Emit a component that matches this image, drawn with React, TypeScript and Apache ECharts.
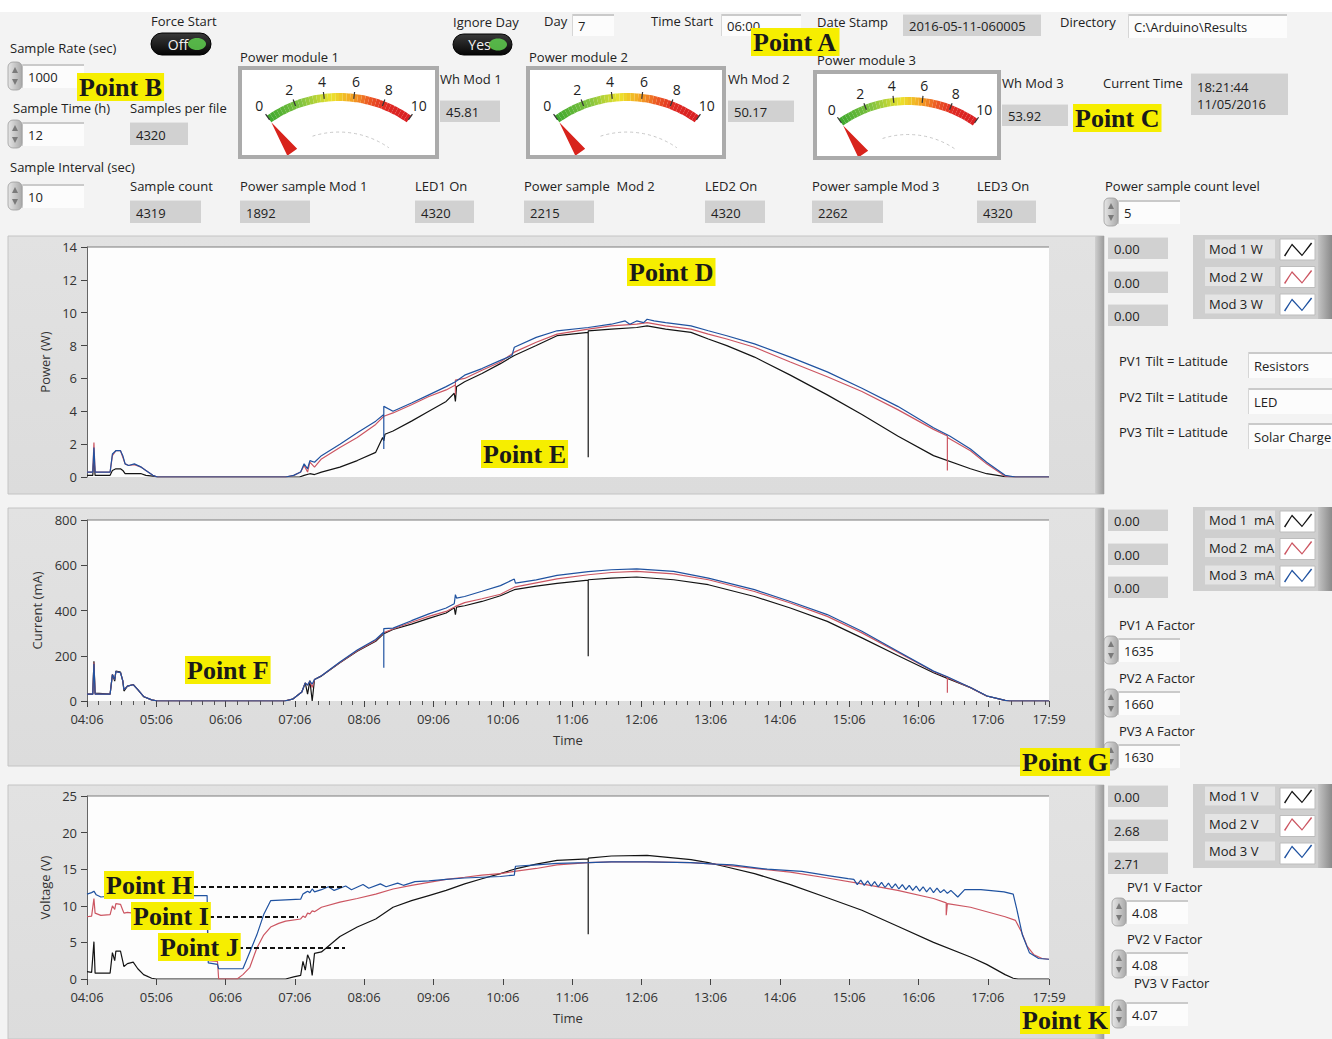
import React, { useEffect, useRef } from "react";
import * as echarts from "echarts";

type Pt = [string, number];

// ---------------- DATA ----------------
const TIME_START = "04:06";
const TIME_END = "17:59";

// Power (W)
const powerMod1: Pt[] = [["04:06",0.1],["04:11",0.1],["04:12",1.2],["04:13",0.1],["04:26",0.1],["04:28",0.4],["04:31",0.5],["04:35",0.5],["04:37",0.4],["04:39",0.2],["04:47",0.2],["04:53",0.2],["04:57",0.1],["05:03",0.05],["05:07",0],["07:10",0],["07:14",0.1],["07:19",0.2],["07:23",0.15],["07:29",0.3],["07:45",0.6],["08:00",1.0],["08:16",1.5],["08:22",2.4],["08:23",2.2],["08:24",2.6],["08:31",2.8],["08:47",3.4],["09:02",4.0],["09:17",4.6],["09:24",5.1],["09:25",4.6],["09:26",5.5],["09:33",5.8],["09:48",6.3],["10:04",6.9],["10:16",7.4],["10:35",8.0],["10:53",8.6],["11:20",8.8],["11:20",1.2],["11:20",8.9],["11:40",9.0],["12:02",9.1],["12:11",9.2],["12:27",9.0],["12:49",8.8],["13:04",8.4],["13:20",8.0],["13:44",7.3],["14:15",6.2],["14:47",5.0],["15:17",3.8],["15:48",2.5],["16:19",1.3],["16:51",0.5],["17:05",0.2],["17:21",0.02],["17:30",0],["17:59",0]];
const powerMod2: Pt[] = [["04:06",0.3],["04:11",0.3],["04:12",2.1],["04:13",0.3],["04:26",0.3],["04:28",1.3],["04:31",1.6],["04:35",1.6],["04:37",1.2],["04:39",0.8],["04:42",0.7],["04:47",0.75],["04:53",0.6],["04:57",0.4],["05:03",0.1],["05:07",0],["06:58",0],["07:05",0.1],["07:11",0.3],["07:14",0.7],["07:17",0.3],["07:19",0.9],["07:23",0.6],["07:29",1.1],["07:45",1.8],["08:00",2.4],["08:16",3.2],["08:23",3.7],["08:31",3.9],["08:47",4.4],["09:02",4.9],["09:17",5.3],["09:25",5.6],["09:25",5.0],["09:25",5.9],["09:33",6.0],["09:48",6.5],["10:04",7.0],["10:16",7.6],["10:35",8.2],["10:53",8.7],["11:20",9.0],["11:40",9.2],["12:02",9.3],["12:11",9.4],["12:27",9.2],["12:49",9.0],["13:04",8.7],["13:20",8.4],["13:44",7.9],["14:15",7.0],["14:47",6.1],["15:17",5.2],["15:48",4.1],["16:19",2.9],["16:31",2.5],["16:31",0.4],["16:31",2.4],["16:51",1.6],["17:05",0.8],["17:21",0.05],["17:28",0],["17:59",0]];
const powerMod3: Pt[] = [["04:06",0.3],["04:11",0.3],["04:12",1.8],["04:13",0.3],["04:26",0.3],["04:28",1.4],["04:31",1.6],["04:35",1.6],["04:37",1.3],["04:39",0.8],["04:42",0.7],["04:47",0.8],["04:53",0.6],["04:57",0.4],["05:03",0.1],["05:07",0],["06:58",0],["07:05",0.1],["07:11",0.3],["07:14",0.8],["07:17",0.5],["07:19",1.0],["07:23",0.9],["07:29",1.3],["07:45",2.0],["08:00",2.7],["08:16",3.4],["08:23",3.8],["08:23",1.7],["08:23",4.3],["08:31",4.0],["08:47",4.5],["09:02",5.0],["09:17",5.5],["09:25",5.8],["09:33",6.2],["09:48",6.6],["10:04",7.1],["10:14",7.4],["10:16",7.9],["10:35",8.5],["10:53",8.9],["11:20",9.1],["11:40",9.3],["11:52",9.5],["11:56",9.3],["12:02",9.5],["12:08",9.4],["12:11",9.6],["12:17",9.5],["12:27",9.4],["12:49",9.2],["13:04",8.9],["13:20",8.6],["13:44",8.1],["14:15",7.3],["14:47",6.4],["15:17",5.4],["15:48",4.3],["16:19",3.0],["16:33",2.5],["16:51",1.7],["17:05",0.9],["17:21",0.1],["17:30",0],["17:59",0]];

// Current (mA)
const currentMod1: Pt[] = [["04:06",30],["04:11",30],["04:12",176],["04:13",35],["04:26",30],["04:28",117],["04:30",88],["04:31",132],["04:35",128],["04:37",88],["04:38",44],["04:41",66],["04:46",73],["04:50",50],["04:55",19],["05:02",5],["05:07",0],["06:57",0],["07:04",8],["07:12",40],["07:15",80],["07:17",30],["07:19",90],["07:21",0],["07:23",95],["07:29",110],["07:45",169],["08:00",220],["08:16",264],["08:23",298],["08:31",316],["08:47",340],["09:02",365],["09:17",389],["09:24",412],["09:25",382],["09:26",415],["09:33",421],["09:48",440],["10:04",465],["10:16",492],["10:35",508],["10:53",520],["11:20",534],["11:20",198],["11:20",536],["11:40",543],["12:02",548],["12:34",536],["13:04",514],["13:44",462],["14:15",411],["14:47",352],["15:17",279],["15:48",201],["16:19",125],["16:31",100],["16:51",59],["17:05",22],["17:21",3],["17:25",0],["17:59",0]];
const currentMod2: Pt[] = [["04:06",30],["04:11",30],["04:12",170],["04:13",30],["04:26",30],["04:28",117],["04:30",95],["04:31",130],["04:35",125],["04:37",90],["04:38",50],["04:41",66],["04:46",72],["04:50",50],["04:55",20],["05:02",5],["05:07",0],["06:57",0],["07:04",8],["07:12",40],["07:15",80],["07:17",70],["07:19",88],["07:21",60],["07:23",95],["07:29",112],["07:45",170],["08:00",222],["08:16",268],["08:23",302],["08:31",318],["08:47",348],["09:02",374],["09:17",396],["09:25",418],["09:33",435],["09:48",452],["10:04",472],["10:16",503],["10:35",522],["10:53",540],["11:20",558],["11:40",568],["12:02",573],["12:34",562],["13:04",536],["13:44",484],["14:15",433],["14:47",374],["15:17",301],["15:48",216],["16:19",130],["16:31",105],["16:31",37],["16:31",104],["16:51",59],["17:05",22],["17:21",3],["17:25",0],["17:59",0]];
const currentMod3: Pt[] = [["04:06",30],["04:11",30],["04:12",165],["04:13",30],["04:26",30],["04:28",117],["04:30",95],["04:31",130],["04:35",125],["04:37",90],["04:38",50],["04:41",66],["04:46",72],["04:50",50],["04:55",20],["05:02",5],["05:07",0],["06:57",0],["07:04",8],["07:12",40],["07:15",80],["07:17",70],["07:19",88],["07:21",75],["07:23",95],["07:29",112],["07:45",172],["08:00",225],["08:16",272],["08:23",305],["08:23",147],["08:23",320],["08:31",322],["08:47",355],["09:02",385],["09:17",411],["09:24",430],["09:25",470],["09:26",455],["09:33",462],["09:48",485],["10:04",510],["10:16",539],["10:17",521],["10:35",535],["10:53",555],["11:20",572],["11:40",580],["12:02",584],["12:34",573],["13:04",543],["13:44",492],["14:15",440],["14:47",382],["15:17",308],["15:48",220],["16:19",132],["16:31",107],["16:51",60],["17:05",23],["17:21",3],["17:25",0],["17:59",0]];

// Voltage (V)
const voltMod1: Pt[] = [["04:06",1.0],["04:10",0.9],["04:12",5.1],["04:13",0.8],["04:26",0.8],["04:28",3.6],["04:30",2.5],["04:31",3.8],["04:35",3.8],["04:37",2.4],["04:38",1.7],["04:41",2.1],["04:46",2.3],["04:50",1.4],["04:55",0.6],["05:02",0.1],["05:06",0],["06:58",0],["07:05",0.3],["07:11",0.5],["07:13",2.4],["07:15",1.2],["07:17",3.3],["07:19",2.6],["07:21",0.5],["07:23",3.5],["07:29",3.7],["07:45",5.8],["08:00",7.1],["08:16",8.2],["08:31",9.8],["08:47",10.7],["09:02",11.4],["09:17",12.1],["09:33",13.0],["09:48",13.7],["10:04",14.4],["10:16",15.0],["10:35",15.7],["10:53",16.2],["11:20",16.4],["11:20",6.1],["11:20",16.5],["11:40",16.8],["12:11",16.9],["12:49",16.3],["13:04",15.9],["13:20",15.3],["13:44",14.4],["14:15",12.9],["14:47",11.1],["15:17",9.4],["15:48",7.2],["16:19",5.0],["16:51",3.0],["17:05",2.0],["17:21",0.6],["17:28",0.1],["17:32",0],["17:59",0]];
const voltMod2: Pt[] = [["04:06",8.5],["04:10",8.6],["04:12",11.0],["04:13",9.0],["04:18",8.7],["04:26",8.8],["04:28",10.0],["04:30",9.5],["04:31",10.3],["04:35",10.2],["04:37",9.4],["04:38",9.0],["04:41",9.1],["04:46",9.0],["04:50",8.9],["04:55",8.8],["05:50",8.8],["05:51",2.5],["05:59",2.4],["06:00",0],["06:16",0],["06:21",0.6],["06:27",1.6],["06:33",4.2],["06:39",6.0],["06:45",7.1],["06:52",7.6],["06:58",7.9],["07:11",8.2],["07:13",8.6],["07:15",8.4],["07:17",9.0],["07:19",8.9],["07:21",9.3],["07:23",9.2],["07:29",9.8],["07:45",10.5],["08:00",11.0],["08:16",11.6],["08:31",12.3],["08:47",12.8],["09:02",13.2],["09:17",13.6],["09:33",13.9],["09:48",14.2],["10:04",14.4],["10:16",14.7],["10:35",15.1],["10:53",15.6],["11:20",15.9],["11:40",16.0],["12:11",16.0],["12:49",15.9],["13:10",15.7],["13:44",15.1],["14:15",14.6],["14:47",13.8],["15:17",13.0],["15:48",12.1],["16:19",11.0],["16:30",10.4],["16:30",8.7],["16:31",10.3],["16:51",9.8],["17:21",8.5],["17:30",8.0],["17:35",6.5],["17:40",4.5],["17:46",3.3],["17:53",2.8],["17:59",2.7]];
const voltMod3: Pt[] = [["04:06",11.6],["04:10",11.8],["04:12",12.0],["04:14",11.5],["04:18",11.2],["04:30",11.4],["05:50",11.4],["05:51",2.2],["05:59",2.0],["06:00",1.4],["06:21",1.4],["06:27",3.7],["06:33",6.0],["06:39",8.8],["06:45",10.7],["07:11",10.9],["07:13",11.6],["07:15",11.8],["07:17",12.0],["07:19",11.8],["07:21",12.3],["07:23",11.9],["07:29",12.2],["07:35",12.6],["07:40",12.1],["07:50",12.7],["07:55",12.2],["08:05",12.9],["08:10",12.4],["08:20",13.0],["08:25",12.6],["08:35",13.1],["08:40",12.8],["08:50",13.3],["09:02",13.4],["09:17",13.6],["09:33",13.8],["09:48",13.9],["10:04",14.0],["10:16",14.2],["10:17",15.4],["10:35",15.6],["10:53",15.8],["11:20",15.9],["11:40",16.0],["12:11",16.0],["12:49",15.9],["13:10",15.7],["13:25",15.6],["13:55",15.0],["14:25",14.7],["14:49",14.1],["15:05",13.7],["15:10",13.6],["15:13",12.9],["15:16",13.5],["15:19",12.8],["15:22",13.4],["15:25",12.7],["15:28",13.3],["15:31",12.6],["15:34",13.2],["15:37",12.5],["15:40",13.1],["15:43",12.4],["15:46",13.0],["15:49",12.3],["15:52",12.9],["15:55",12.2],["15:58",12.8],["16:01",12.1],["16:04",12.7],["16:07",12.0],["16:10",12.6],["16:13",11.9],["16:16",12.5],["16:19",11.8],["16:22",12.4],["16:25",11.8],["16:28",12.2],["16:31",11.7],["16:34",12.1],["16:40",11.2],["16:46",12.2],["17:00",12.2],["17:20",11.9],["17:28",11.6],["17:31",9.6],["17:36",6.0],["17:42",3.6],["17:50",2.8],["17:59",2.7]];

const powerNames = ["Mod 1 W", "Mod 2 W", "Mod 3 W"];
const currentNames = ["Mod 1  mA", "Mod 2  mA", "Mod 3  mA"];
const voltNames = ["Mod 1 V", "Mod 2 V", "Mod 3 V"];
const powerReadouts = ["0.00", "0.00", "0.00"];
const currentReadouts = ["0.00", "0.00", "0.00"];
const voltReadouts = ["0.00", "2.68", "2.71"];
const gaugeNeedles = [0, 0, 0];
const gaugeTickLabels = ["0", "2", "4", "6", "8", "10"];
const whValues = ["45.81", "50.17", "53.92"];
const sampleCounts = ["4319", "1892", "4320", "2215", "4320", "2262", "4320"];
const aFactors = ["1635", "1660", "1630"];
const vFactors = ["4.08", "4.08", "4.07"];
const tiltLoads = ["Resistors", "LED", "Solar Charge"];

// ---------------- HELPERS ----------------
const FONT = "'Open Sans', 'Noto Sans', sans-serif";
const SERIF = "'Liberation Serif', 'Times New Roman', serif";
const COLORS = ["#141414", "#cc5662", "#1f52a0"];

const toMin = (s: string) => {
  const [h, m] = s.split(":").map(Number);
  return h * 60 + m;
};
const T0 = toMin(TIME_START);
const T1 = toMin(TIME_END);
const pad = (n: number) => (n < 10 ? "0" + n : "" + n);
const fmtTime = (v: number) => {
  const t = Math.round(v + T0);
  return pad(Math.floor(t / 60)) + ":" + pad(t % 60);
};
const toXY = (arr: Pt[]) => arr.map(([t, v]) => [toMin(t) - T0, v]);

const GAUGE_KEYS: [number, string][] = [
  [0, "#3da82e"], [0.25, "#84c440"], [0.45, "#ece32c"], [0.58, "#f4a823"],
  [0.7, "#ec5a24"], [0.82, "#e02a23"], [1, "#d81f22"],
];
const hex = (c: string) => [1, 3, 5].map((i) => parseInt(c.slice(i, i + 2), 16));
const colorAt = (t: number) => {
  for (let i = 1; i < GAUGE_KEYS.length; i++) {
    const [t1, c1] = GAUGE_KEYS[i];
    const [t0, c0] = GAUGE_KEYS[i - 1];
    if (t <= t1) {
      const f = (t - t0) / (t1 - t0);
      const a = hex(c0), b = hex(c1);
      return "rgb(" + a.map((x, k) => Math.round(x + (b[k] - x) * f)).join(",") + ")";
    }
  }
  return GAUGE_KEYS[GAUGE_KEYS.length - 1][1];
};
const GAUGE_STOPS = Array.from({ length: 40 }, (_, i) => [(i + 1) / 40, colorAt((i + 0.5) / 40)]);

const NEEDLE = "path://M6,0 L12,31 L0,31 Z M0,100 L0.1,100 L0,99.9 Z M12,0 L11.9,0 L12,0.1 Z M0,0 L0.1,0 L0,0.1 Z";
const ZIG = "path://M0,0 L0.1,0 L0,0.1 Z M35,21 L34.9,21 L35,20.9 Z M4,17 L12,5 L22,16 L31,4 L32.2,5 L22,17.8 L12,7 L5.2,18 Z";

const GAUGE_START = 125;
const GAUGE_END = 55;

function buildOption() {
  const g: any[] = [];
  const lg = (c0: string, c1: string, hor = false) =>
    new echarts.graphic.LinearGradient(0, 0, hor ? 1 : 0, hor ? 0 : 1, [
      { offset: 0, color: c0 },
      { offset: 1, color: c1 },
    ]);
  const rect = (x: number, y: number, w: number, h: number, style: any, z = -3, r = 0) =>
    g.push({ type: "rect", silent: true, z, shape: { x, y, width: w, height: h, r }, style });
  const line = (x1: number, y1: number, x2: number, y2: number, style: any, z = -2) =>
    g.push({ type: "line", silent: true, z, shape: { x1, y1, x2, y2 }, style });
  const txt = (x: number, y: number, text: string, o: any = {}) =>
    g.push({
      type: "text", silent: true, z: o.z ?? 5, x, y,
      style: {
        text, fill: o.color ?? "#222",
        font: `${o.weight ?? "normal"} ${o.size ?? 13}px ${o.family ?? FONT}`,
        textAlign: o.align ?? "left", textVerticalAlign: "middle",
        align: o.align ?? "left", verticalAlign: "middle",
        lineHeight: o.lineHeight,
      },
    });

  // page background
  rect(0, 0, 1332, 1039, { fill: "#f3f3f3" }, -10);
  rect(0, 0, 1332, 12, { fill: "#ffffff" }, -9);

  // chart panels
  const panels = [
    [236, 258, 247, 230],
    [508, 258, 520, 181],
    [785, 254, 796, 183],
  ];
  panels.forEach(([py, ph, gy, gh]) => {
    rect(8, py, 1096, ph, { fill: lg("#e2e2e2", "#dcdcdc"), stroke: "#c4c4c4", lineWidth: 1 }, -8);
    rect(1095, py, 9, ph, { fill: lg("#cfcfcf", "#9c9c9c", true) }, -7);
    rect(87, gy, 962, gh, { fill: "#fdfdfd" }, -6);
    line(87, gy, 1049, gy, { stroke: "#7d7d7d", lineWidth: 1 }, -5);
  });

  // labels
  const LABELS: [number, number, string][] = [
    [151, 21, "Force Start"], [453, 22, "Ignore Day"], [544, 21, "Day"], [651, 21, "Time Start"],
    [817, 22, "Date Stamp"], [1060, 22, "Directory"],
    [10, 48, "Sample Rate (sec)"], [240, 57, "Power module 1"], [529, 57, "Power module 2"], [817, 60, "Power module 3"],
    [440, 79, "Wh Mod 1"], [728, 79, "Wh Mod 2"], [1002, 83, "Wh Mod 3"], [1103, 83, "Current Time"],
    [13, 108, "Sample Time (h)"], [130, 108, "Samples per file"], [10, 167, "Sample Interval (sec)"],
    [130, 186, "Sample count"], [240, 186, "Power sample Mod 1"], [415, 186, "LED1 On"],
    [524, 186, "Power sample  Mod 2"], [705, 186, "LED2 On"], [812, 186, "Power sample Mod 3"],
    [977, 186, "LED3 On"], [1105, 186, "Power sample count level"],
    [1119, 361, "PV1 Tilt = Latitude"], [1119, 397, "PV2 Tilt = Latitude"], [1119, 432, "PV3 Tilt = Latitude"],
    [1119, 625, "PV1 A Factor"], [1119, 678, "PV2 A Factor"], [1119, 731, "PV3 A Factor"],
    [1127, 887, "PV1 V Factor"], [1127, 939, "PV2 V Factor"], [1134, 983, "PV3 V Factor"],
  ];
  LABELS.forEach(([x, y, t]) => txt(x, y, t));

  // indicators (gray)
  const indicator = (x: number, y: number, w: number, h: number, t: string, lh?: number) => {
    rect(x, y, w, h, { fill: "#d1d1d1" }, -3);
    line(x, y + 0.5, x + w, y + 0.5, { stroke: "#e4e4e4", lineWidth: 1 }, -2);
    txt(x + 6, y + h / 2 + 1, t, { lineHeight: lh });
  };
  indicator(903, 14, 138, 22, "2016-05-11-060005");
  indicator(440, 100, 60, 22, whValues[0]);
  indicator(728, 100, 66, 22, whValues[1]);
  indicator(1002, 104, 66, 22, whValues[2]);
  indicator(1191, 73, 97, 42, "18:21:44\n11/05/2016", 17);
  indicator(130, 122, 58, 23, "4320");
  const countBoxes = [[130, 71], [240, 70], [415, 59], [524, 70], [705, 60], [812, 71], [977, 59]];
  countBoxes.forEach(([x, w], i) => indicator(x, 200, w, 23, sampleCounts[i]));
  [237, 271, 304].forEach((y, i) => indicator(1108, y, 60, 22, powerReadouts[i]));
  [509, 543, 576].forEach((y, i) => indicator(1108, y, 60, 22, currentReadouts[i]));
  [785, 819, 852].forEach((y, i) => indicator(1108, y, 60, 22, voltReadouts[i]));

  // controls (white)
  const spinner = (x: number, y: number) => {
    rect(x, y, 14, 28, { fill: lg("#e6e6e6", "#a9a9a9", true), stroke: "#9c9c9c", lineWidth: 0.8 }, -2, 5);
    g.push({ type: "polygon", silent: true, z: -1, shape: { points: [[x + 4, y + 11], [x + 7, y + 5], [x + 10, y + 11]] }, style: { fill: "#7a7a7a" } });
    g.push({ type: "polygon", silent: true, z: -1, shape: { points: [[x + 4, y + 17], [x + 7, y + 23], [x + 10, y + 17]] }, style: { fill: "#7a7a7a" } });
  };
  const control = (x: number, y: number, w: number, h: number, t: string, spin: boolean) => {
    rect(x, y, w, h, { fill: "#fcfcfc" }, -3);
    line(x, y + 1, x + w, y + 1, { stroke: "#cacaca", lineWidth: 2 }, -2);
    line(x + 0.5, y, x + 0.5, y + h, { stroke: "#d6d6d6", lineWidth: 1 }, -2);
    if (spin) spinner(x - 14, y - 2);
    txt(x + 6, y + h / 2 + 1, t);
  };
  control(572, 14, 42, 22, "7", false);
  control(721, 14, 80, 22, "06:00", false);
  control(1128, 14, 159, 24, "C:\\Arduino\\Results", false);
  control(22, 64, 62, 24, "1000", true);
  control(22, 122, 62, 24, "12", true);
  control(22, 184, 62, 24, "10", true);
  control(1118, 200, 62, 24, "5", true);
  [352, 388, 423].forEach((y, i) => control(1248, y, 90, 26, tiltLoads[i], false));
  [638, 691, 744].forEach((y, i) => control(1118, y, 62, 24, aFactors[i], true));
  [900, 952, 1002].forEach((y, i) => control(1126, y, 62, 24, vFactors[i], true));

  // toggles
  const toggle = (x: number, y: number, w: number, h: number, t: string) => {
    rect(x, y, w, h, { fill: lg("#3a3a3a", "#050505"), stroke: "#000", lineWidth: 1 }, -2, h / 2);
    g.push({ type: "ellipse", silent: true, z: -1, shape: { cx: x + w - 14, cy: y + h / 2, rx: 9, ry: 6 }, style: { fill: "#5fcf4f", opacity: 0.85 } });
    txt(x + w / 2 - 3, y + h / 2, t, { color: "#f2f2f2", align: "center", size: 14 });
  };
  toggle(151, 33, 60, 22, "Off");
  toggle(453, 34, 59, 21, "Yes");

  // gauges geometry
  const gaugeDefs = [
    { cx: 339, cy: 219, r: 126, lr: 139, box: [240, 68, 197, 89] },
    { cx: 627, cy: 219, r: 126, lr: 139, box: [528, 68, 196, 89] },
    { cx: 908, cy: 218, r: 121, lr: 133, box: [815, 72, 184, 86] },
  ];
  gaugeDefs.forEach((d) => {
    const [x, y, w, h] = d.box;
    rect(x, y, w, h, { fill: "#ffffff" }, -3);
    rect(x, y, w, h, { fill: "none", stroke: "#ababab", lineWidth: 4 }, 10);
    g.push({ type: "arc", silent: true, z: -2, shape: { cx: d.cx, cy: d.cy, r: d.r * 0.69, startAngle: -1.88, endAngle: -0.96, clockwise: true }, style: { stroke: "#c8c8c8", fill: "none", lineWidth: 1, lineDash: [3, 3] } });
    gaugeTickLabels.forEach((lab, k) => {
      const a = ((GAUGE_START - (k * (GAUGE_START - GAUGE_END)) / (gaugeTickLabels.length - 1)) * Math.PI) / 180;
      txt(d.cx + d.lr * Math.cos(a), d.cy - d.lr * Math.sin(a), lab, { align: "center", size: 14, z: 6 });
    });
  });

  // legend panels
  [235, 507, 784].forEach((y) => {
    rect(1193, y, 139, 84, { fill: "#cfcfcf" }, -3);
    rect(1318, y, 14, 84, { fill: lg("#c4c4c4", "#8a8a8a", true) }, -2);
    [0, 1, 2].forEach((k) => rect(1280, y + 4 + k * 27.5, 35, 21, { fill: "#ffffff", stroke: "#bdbdbd", lineWidth: 1 }, -1));
  });

  // highlighted point tags
  const POINTS: [number, number, string][] = [
    [751, 28, "Point A"], [77, 73, "Point B"], [1073, 104, "Point C"], [627, 258, "Point D"],
    [481, 440, "Point E"], [185, 656, "Point F"], [1020, 748, "Point G"], [104, 871, "Point H"],
    [131, 902, "Point I"], [158, 933, "Point J"], [1020, 1006, "Point K"],
  ];
  POINTS.forEach(([x, y, t]) =>
    g.push({
      type: "text", silent: true, z: 60, x, y,
      style: {
        text: t, fill: "#1a1a1a", font: `bold 26px ${SERIF}`,
        backgroundColor: "#f6ee00", padding: [1, 2, 0, 2], lineHeight: 27,
        textVerticalAlign: "top", verticalAlign: "top",
      },
    })
  );
  const DASHES: [number, number, number][] = [[193, 345, 887], [209, 298, 917], [238, 345, 948]];
  DASHES.forEach(([x1, x2, y]) => line(x1, y, x2, y, { stroke: "#111", lineWidth: 2, lineDash: [5, 3] }, 55));

  // axes / grids
  const grids = [
    { left: 87, top: 247, width: 962, height: 230 },
    { left: 87, top: 520, width: 962, height: 181 },
    { left: 87, top: 796, width: 962, height: 183 },
  ].map((gr) => ({ ...gr, containLabel: false, outerBoundsMode: "none", show: false }));

  const xAxisBase = (i: number) => ({
    type: "value", gridIndex: i, min: 0, max: T1 - T0, interval: 60,
    axisLine: { show: false },
    axisTick: { show: i > 0, length: 6, lineStyle: { color: "#444" } },
    minorTick: { show: i === 1, splitNumber: 6, length: 4, lineStyle: { color: "#555" } },
    axisLabel: { show: i > 0, margin: 11, color: "#333", fontSize: 13, fontFamily: FONT, formatter: (v: number) => fmtTime(v) },
    splitLine: { show: false },
    name: i > 0 ? "Time" : "",
    nameLocation: "middle", nameGap: 32,
    nameTextStyle: { color: "#333", fontSize: 13, fontFamily: FONT },
    show: i > 0,
  });
  const yAxisBase = (i: number, min: number, max: number, interval: number, name: string, gap: number) => ({
    type: "value", gridIndex: i, min, max, interval,
    axisLine: { show: true, lineStyle: { color: "#666" } },
    axisTick: { show: true, length: 6, lineStyle: { color: "#444" } },
    axisLabel: { margin: 10, color: "#333", fontSize: 13, fontFamily: FONT },
    splitLine: { show: false },
    name, nameLocation: "middle", nameGap: gap,
    nameTextStyle: { color: "#333", fontSize: 13, fontFamily: FONT },
  });

  const mkLine = (name: string, data: Pt[], color: string, i: number) => ({
    type: "line", name, xAxisIndex: i, yAxisIndex: i, data: toXY(data),
    symbol: "none", showSymbol: false, silent: true, z: 3,
    lineStyle: { color, width: 1.2 }, itemStyle: { color },
    emphasis: { disabled: true },
  });

  const lineSeries = [
    mkLine(powerNames[0], powerMod1, COLORS[0], 0),
    mkLine(powerNames[1], powerMod2, COLORS[1], 0),
    mkLine(powerNames[2], powerMod3, COLORS[2], 0),
    mkLine(currentNames[0], currentMod1, COLORS[0], 1),
    mkLine(currentNames[1], currentMod2, COLORS[1], 1),
    mkLine(currentNames[2], currentMod3, COLORS[2], 1),
    mkLine(voltNames[0], voltMod1, COLORS[0], 2),
    mkLine(voltNames[1], voltMod2, COLORS[1], 2),
    mkLine(voltNames[2], voltMod3, COLORS[2], 2),
  ];

  const gauges = gaugeDefs.map((d, i) => ({
    type: "gauge", center: [d.cx, d.cy], radius: d.r, startAngle: GAUGE_START, endAngle: GAUGE_END,
    min: 0, max: Number(gaugeTickLabels[gaugeTickLabels.length - 1]), splitNumber: gaugeTickLabels.length - 1,
    silent: true, z: 2,
    axisLine: { lineStyle: { width: 8, color: GAUGE_STOPS } },
    splitLine: { show: true, length: 7, distance: -10, lineStyle: { color: "#333", width: 1.2 } },
    axisTick: { show: false },
    axisLabel: { show: false },
    pointer: { show: true, icon: NEEDLE, length: d.r - 8, width: 12, offsetCenter: [0, 0], itemStyle: { color: "#d8231c" } },
    anchor: { show: false }, title: { show: false }, detail: { show: false }, progress: { show: false },
    data: [{ value: gaugeNeedles[i], name: "Power module " + (i + 1) }],
  }));

  const legendTops = [238.5, 509.5, 785.5];
  const legendNames = [powerNames, currentNames, voltNames];
  const legend = legendNames.map((names, i) => ({
    data: names, orient: "vertical", left: 1205, top: legendTops[i], align: "right",
    padding: 0, itemWidth: 35, itemHeight: 21, itemGap: 6.5, icon: ZIG, selectedMode: false,
    itemStyle: { borderWidth: 0 },
    formatter: (n: string) => "{a|" + n + "}",
    textStyle: {
      fontFamily: FONT, fontSize: 13, color: "#222", backgroundColor: "#e4e4e4", padding: [2, 4],
      rich: { a: { width: 62, align: "left", fontFamily: FONT, fontSize: 13, color: "#222", lineHeight: 15 } },
    },
  }));

  return {
    animation: false,
    backgroundColor: "#f3f3f3",
    grid: grids,
    xAxis: [0, 1, 2].map(xAxisBase),
    yAxis: [
      yAxisBase(0, 0, 14, 2, "Power (W)", 30),
      yAxisBase(1, 0, 800, 200, "Current (mA)", 33),
      yAxisBase(2, 0, 25, 5, "Voltage (V)", 30),
    ],
    legend,
    series: [...lineSeries, ...gauges],
    graphic: { elements: g },
  };
}

export default function App() {
  const ref = useRef<HTMLDivElement>(null);
  useEffect(() => {
    if (!ref.current) return;
    const chart = echarts.init(ref.current, null, { renderer: "svg" });
    chart.setOption(buildOption() as any);
    return () => chart.dispose();
  }, []);
  return (
    <div
      ref={ref}
      style={{ position: "absolute", left: 0, top: 0, width: 1332, height: 1039 }}
    />
  );
}
